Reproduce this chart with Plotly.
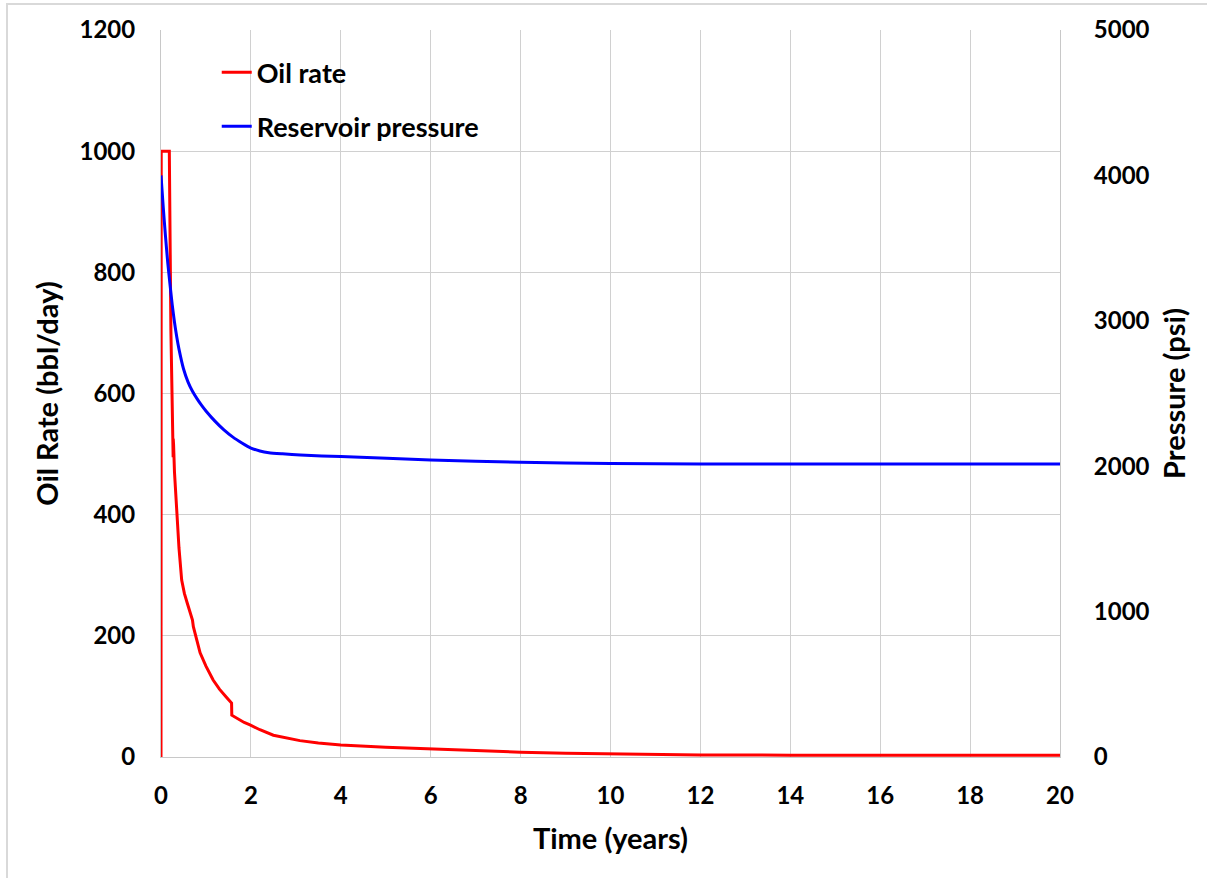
import plotly.graph_objects as go

# Oil rate (bbl/day) vs time (years)
rate_t = [0, 0.005, 0.185, 0.22, 0.27, 0.272, 0.28, 0.30, 0.35, 0.40, 0.46, 0.52, 0.58,
          0.645, 0.70, 0.72, 0.75, 0.80, 0.87, 1.0, 1.16, 1.3, 1.45, 1.57, 1.575, 1.7,
          1.85, 1.98, 2.2, 2.5, 2.8, 3.09, 3.5, 4, 5, 6, 7, 8, 9, 10, 11, 12,
          14, 16, 18, 20]
rate_v = [0, 1000, 1000, 705, 495, 525, 515, 470, 403, 345, 292, 270, 255,
          238, 226, 215, 205, 192, 172, 150, 127, 112, 99, 89, 69, 63,
          57, 53, 45, 36, 31, 27, 23, 20, 16, 13, 10, 8, 6, 5, 4, 3.5,
          3, 3, 3, 3]

# Reservoir pressure (psi) vs time (years)
pres_t = [0, 0.05, 0.1, 0.15, 0.2, 0.25, 0.3, 0.35, 0.4, 0.5, 0.6, 0.7, 0.8, 0.9,
          1.0, 1.2, 1.4, 1.6, 1.8, 2.0, 2.2, 2.4, 2.7, 3.1, 4, 6, 8, 10, 12, 14,
          16, 18, 20]
pres_v = [4000, 3780, 3580, 3400, 3250, 3110, 2990, 2890, 2805, 2670, 2580, 2515,
          2465, 2420, 2380, 2310, 2250, 2200, 2160, 2125, 2105, 2093, 2085, 2077,
          2066, 2043, 2027, 2018, 2015, 2015, 2015, 2015, 2015]

x_ticks = list(range(0, 21, 2))
y1_ticks = list(range(0, 1201, 200))
y2_ticks = list(range(0, 5001, 1000))

FONT = "Lato"
tick_font = dict(family=FONT, size=24, color="black", weight="bold")
title_font = dict(family=FONT, size=29, color="black", weight="bold")

fig = go.Figure()
fig.add_trace(go.Scatter(x=rate_t, y=rate_v, mode="lines", name="Oil rate",
                         line=dict(color="#FF0000", width=3), legendgroup="a"))
fig.add_trace(go.Scatter(x=pres_t, y=pres_v, mode="lines", name="Reservoir pressure",
                         line=dict(color="#0000FF", width=3, shape="spline", smoothing=0.6),
                         yaxis="y2", legendgroup="b"))

fig.update_layout(
    width=1207, height=878,
    margin=dict(l=161, r=147, t=30, b=121),
    paper_bgcolor="white", plot_bgcolor="white",
    xaxis=dict(range=[0, 20], tickvals=x_ticks, showgrid=True, gridcolor="#d0d0d0",
               gridwidth=1, showline=True, linecolor="#c8c8c8", linewidth=1,
               zeroline=False, tickfont=tick_font, ticks="", ticklabelstandoff=17,
               title=dict(text="Time (years)", font=title_font, standoff=20)),
    yaxis=dict(range=[0, 1200], tickvals=y1_ticks, showgrid=True, gridcolor="#d0d0d0",
               gridwidth=1, showline=True, linecolor="#c8c8c8", linewidth=1,
               zeroline=False, tickfont=tick_font, ticks="", ticklabelstandoff=20,
               title=dict(text="Oil Rate (bbl/day)", font=title_font, standoff=12)),
    yaxis2=dict(range=[0, 5000], tickvals=y2_ticks, overlaying="y", side="right",
                showgrid=False, showline=True, linecolor="#c8c8c8", linewidth=1,
                zeroline=False, tickfont=tick_font, ticks="", ticklabelstandoff=28,
                title=dict(text="Pressure (psi)", font=title_font, standoff=16)),
    legend=dict(x=0.062, y=0.975, xanchor="left", yanchor="top",
                bgcolor="rgba(0,0,0,0)", font=dict(family=FONT, size=27, color="black", weight="bold"),
                tracegroupgap=16, itemwidth=30),
    showlegend=True,
)

# outer chart border (top and left visible)
fig.add_shape(type="line", xref="paper", yref="paper",
              x0=(6 - 161) / 899, x1=(1207 - 161) / 899, y0=(757 - 4) / 727, y1=(757 - 4) / 727,
              line=dict(color="#d9d9d9", width=2))
fig.add_shape(type="line", xref="paper", yref="paper",
              x0=(7 - 161) / 899, x1=(7 - 161) / 899, y0=(757 - 4) / 727, y1=(757 - 878) / 727,
              line=dict(color="#d9d9d9", width=2))

fig.write_html("out.html")
